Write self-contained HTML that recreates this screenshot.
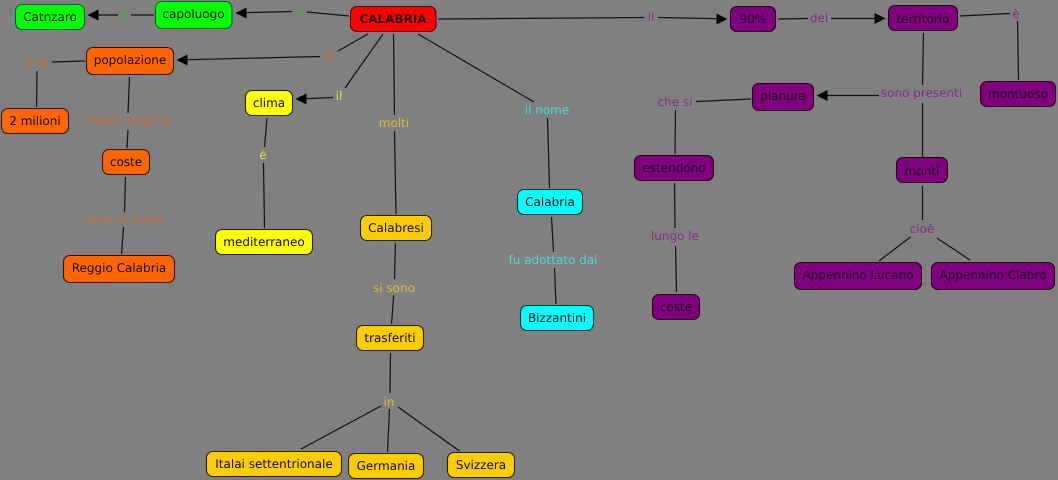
<!DOCTYPE html>
<html><head><meta charset="utf-8"><style>
html,body{margin:0;padding:0;background:#808080}
svg{display:block;filter:blur(0.3px)}
text{font-family:"DejaVu Sans",sans-serif;font-size:12px;text-anchor:middle;text-rendering:geometricPrecision}
.n rect{stroke-width:1.1}
line{stroke:#111;stroke-width:1.2}
polygon{fill:#000}
.lg text{fill:#3fb53f}.lo text{fill:#c8703a}.ly text{fill:#dede3c}.la text{fill:#e0b832}.lc text{fill:#3fdede}.lp text{fill:#8a2a8a}
</style></head><body>
<svg width="1058" height="480" viewBox="0 0 1058 480" xmlns="http://www.w3.org/2000/svg">
<rect width="1058" height="480" fill="#808080"/>
<g>
<line x1="349" y1="16" x2="307" y2="12"/><line x1="292" y1="11.5" x2="245" y2="12.7"/>
<line x1="154" y1="15" x2="131" y2="15"/><line x1="118" y1="15" x2="97" y2="15"/>
<line x1="368" y1="34" x2="338" y2="51"/><line x1="320" y1="56.5" x2="187" y2="59.7"/>
<line x1="383" y1="34" x2="345" y2="88"/><line x1="333" y1="97.5" x2="305" y2="98.7"/>
<line x1="85" y1="61" x2="52" y2="62"/><line x1="37" y1="71" x2="36.5" y2="107"/>
<line x1="129.5" y1="77" x2="128" y2="113"/><line x1="128" y1="130" x2="127" y2="148"/>
<line x1="125.5" y1="177" x2="124.5" y2="212"/><line x1="123.5" y1="227" x2="121.5" y2="254"/>
<line x1="267" y1="118" x2="264.5" y2="147"/><line x1="263.5" y1="163" x2="264.5" y2="228"/>
<line x1="393.5" y1="34" x2="394.5" y2="115"/><line x1="394.5" y1="131" x2="396" y2="214"/>
<line x1="395.5" y1="243" x2="394.5" y2="279"/><line x1="393.7" y1="295" x2="391.5" y2="324"/>
<line x1="390.5" y1="353" x2="390" y2="393"/><line x1="381" y1="406" x2="301" y2="449"/><line x1="389.5" y1="409" x2="387.5" y2="452"/><line x1="398" y1="407" x2="459.5" y2="451"/>
<line x1="418" y1="34" x2="534" y2="102"/><line x1="547.5" y1="118" x2="549.5" y2="188"/>
<line x1="551.5" y1="217" x2="553.5" y2="252"/><line x1="554.5" y1="268" x2="556" y2="304"/>
<line x1="438" y1="19" x2="644" y2="17.5"/><line x1="658" y1="17.5" x2="718" y2="18.7"/>
<line x1="778" y1="19" x2="808" y2="18.5"/><line x1="831" y1="18.5" x2="876" y2="18.5"/>
<line x1="960" y1="16" x2="1010" y2="13.5"/><line x1="1017.5" y1="21" x2="1018.5" y2="80"/>
<line x1="923.5" y1="33" x2="922.5" y2="85"/><line x1="922.5" y1="103" x2="922.5" y2="157"/><line x1="879" y1="95.5" x2="826" y2="95.5"/>
<line x1="751" y1="99" x2="696" y2="101.5"/><line x1="675.5" y1="110" x2="675" y2="154"/>
<line x1="674.5" y1="183" x2="675" y2="228"/><line x1="675.5" y1="246" x2="676.5" y2="292"/>
<line x1="922.5" y1="186" x2="922.5" y2="220"/><line x1="910.5" y1="237" x2="879" y2="261"/><line x1="937" y1="238" x2="970" y2="260"/>
</g>
<g>
<polygon points="235.5,13 246.5,7.5 246.5,18.5"/>
<polygon points="87.5,15 98.5,9.5 98.5,20.5"/>
<polygon points="176.5,60 187.5,54.5 187.5,65.5"/>
<polygon points="295.5,99 306.5,93.5 306.5,104.5"/>
<polygon points="727.5,19 716.5,13.5 716.5,24.5"/>
<polygon points="885.5,18.5 874.5,13 874.5,24"/>
<polygon points="816.5,95.5 827.5,90 827.5,101"/>
</g>
<g class="n">
<rect x="15.5" y="4.5" width="69" height="25" rx="6.5" fill="#00ff00" stroke="#063"/>
<rect x="155.5" y="1.5" width="76.5" height="27" rx="6.5" fill="#00ff00" stroke="#063"/>
<rect x="350.5" y="6.5" width="85.5" height="25" rx="6.5" fill="#ff0000" stroke="#500"/>
<rect x="86.5" y="47.5" width="87" height="27" rx="6.5" fill="#ff6600" stroke="#311"/>
<rect x="1.5" y="108.5" width="67" height="25" rx="6.5" fill="#ff6600" stroke="#311"/>
<rect x="102.5" y="149.5" width="47" height="25" rx="6.5" fill="#ff6600" stroke="#311"/>
<rect x="63.5" y="255.5" width="111" height="27" rx="6.5" fill="#ff6600" stroke="#311"/>
<rect x="245.5" y="90.5" width="47" height="25" rx="6.5" fill="#ffff00" stroke="#220"/>
<rect x="215.5" y="229.5" width="97" height="25" rx="6.5" fill="#ffff00" stroke="#220"/>
<rect x="360.5" y="215.5" width="71" height="25" rx="6.5" fill="#ffcc00" stroke="#220"/>
<rect x="356.5" y="325.5" width="67" height="25" rx="6.5" fill="#ffcc00" stroke="#220"/>
<rect x="206.5" y="451.5" width="135" height="25" rx="6.5" fill="#ffcc00" stroke="#220"/>
<rect x="348.5" y="453.5" width="75" height="25" rx="6.5" fill="#ffcc00" stroke="#220"/>
<rect x="447.5" y="452.5" width="67" height="25" rx="6.5" fill="#ffcc00" stroke="#220"/>
<rect x="517.5" y="189.5" width="65" height="25" rx="6.5" fill="#00ffff" stroke="#033"/>
<rect x="520.5" y="305.5" width="73" height="25" rx="6.5" fill="#00ffff" stroke="#033"/>
<rect x="730.5" y="6.5" width="45" height="25" rx="6.5" fill="#800080" stroke="#201"/>
<rect x="888.5" y="5.5" width="69" height="25" rx="6.5" fill="#800080" stroke="#201"/>
<rect x="752.5" y="83.5" width="61" height="27" rx="6.5" fill="#800080" stroke="#201"/>
<rect x="980.5" y="81.5" width="75" height="25" rx="6.5" fill="#800080" stroke="#201"/>
<rect x="634.5" y="155.5" width="79" height="25" rx="6.5" fill="#800080" stroke="#201"/>
<rect x="896.5" y="157.5" width="51" height="25" rx="6.5" fill="#800080" stroke="#201"/>
<rect x="652.5" y="294.5" width="47" height="25" rx="6.5" fill="#800080" stroke="#201"/>
<rect x="794.5" y="262.5" width="127" height="27" rx="6.5" fill="#800080" stroke="#201"/>
<rect x="931.5" y="262.5" width="123" height="27" rx="6.5" fill="#800080" stroke="#201"/>
</g>
<g fill="#0a0a0a">
<text x="50" y="21">Catnzaro</text>
<text x="193.5" y="18">capoluogo</text>
<text x="393" y="23" font-weight="bold" fill="#200">CALABRIA</text>
<text x="130" y="64">popolazione</text>
<text x="35" y="125">2 milioni</text>
<text x="126" y="166">coste</text>
<text x="119" y="272">Reggio Calabria</text>
<text x="269" y="107">clima</text>
<text x="264" y="246">mediterraneo</text>
<text x="396" y="232">Calabresi</text>
<text x="390" y="342">trasferiti</text>
<text x="274" y="468">Italai settentrionale</text>
<text x="386" y="470">Germania</text>
<text x="481" y="469">Svizzera</text>
<text x="550" y="206">Calabria</text>
<text x="557" y="322">Bizzantini</text>
</g>
<g fill="#1c0a1c">
<text x="753" y="23">90%</text>
<text x="923" y="23">territorio</text>
<text x="783" y="100">pianure</text>
<text x="1018" y="98">montuoso</text>
<text x="674" y="172">estendono</text>
<text x="922" y="175">monti</text>
<text x="676" y="311">coste</text>
<text x="858" y="279">Appennino Lucano</text>
<text x="993" y="279">Appennino Clabro</text>
</g>
<g class="lg"><text x="300" y="15">il</text><text x="124" y="19">è</text></g>
<g class="lo"><text x="329" y="60">la</text><text x="37" y="67">è di</text><text x="128" y="124">risiedi lungo le</text><text x="124" y="223">dove si trova</text></g>
<g class="ly"><text x="339" y="100">il</text><text x="263" y="159">è</text></g>
<g class="la"><text x="394" y="127">molti</text><text x="394" y="292">si sono</text><text x="389" y="406">in</text></g>
<g class="lc"><text x="547" y="114">il nome</text><text x="553" y="264">fu adottato dai</text></g>
<g class="lp"><text x="651" y="21">il</text><text x="819" y="22">del</text><text x="1016" y="18">è</text><text x="921.5" y="97">sono presenti</text><text x="675" y="106">che si</text><text x="675" y="240">lungo le</text><text x="922" y="233">cioè</text></g>
</svg>
</body></html>
